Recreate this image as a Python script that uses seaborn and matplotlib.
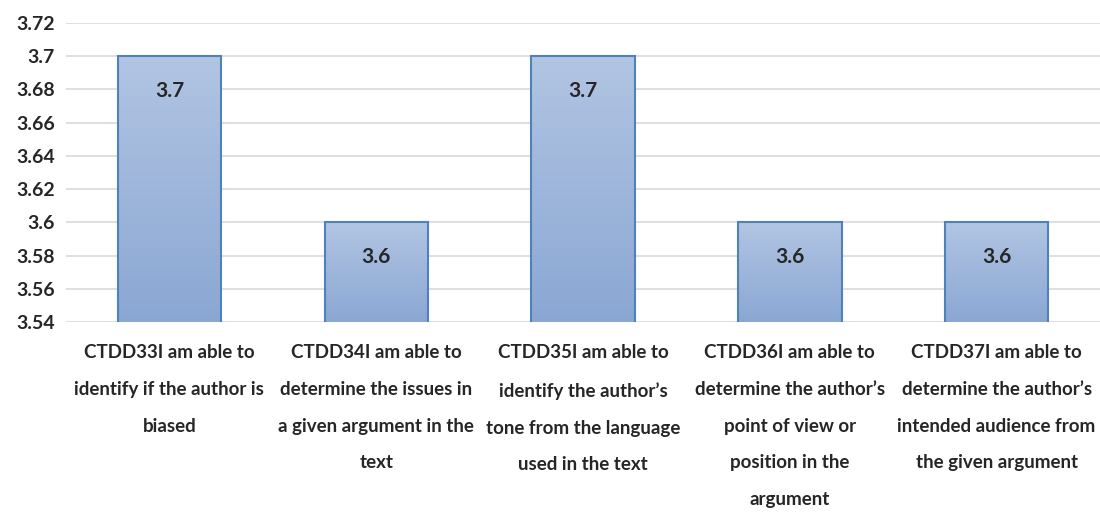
import numpy as np
import pandas as pd
import seaborn as sns
import matplotlib.pyplot as plt
from matplotlib.colors import LinearSegmentedColormap

sns.set_style('white')
plt.rcParams['font.family'] = ['Lato', 'DejaVu Sans']

# 数据
items = [
    "CTDD33I am able to\nidentify if the author is\nbiased",
    "CTDD34I am able to\ndetermine the issues in\na given argument in the\ntext",
    "CTDD35I am able to\nidentify the author\u2019s\ntone from the language\nused in the text",
    "CTDD36I am able to\ndetermine the author\u2019s\npoint of view or\nposition in the\nargument",
    "CTDD37I am able to\ndetermine the author\u2019s\nintended audience from\nthe given argument",
]
means = [3.7, 3.6, 3.7, 3.6, 3.6]
yticks = [3.54, 3.56, 3.58, 3.60, 3.62, 3.64, 3.66, 3.68, 3.70, 3.72]
ytick_labels = ["3.54", "3.56", "3.58", "3.6", "3.62", "3.64", "3.66", "3.68", "3.7", "3.72"]

df = pd.DataFrame({"item": items, "mean": means})

fig = plt.figure(figsize=(11, 5.18), dpi=100)
ax = fig.add_axes([0.06, 0.378, 0.94, 0.578])

sns.barplot(data=df, x="item", y="mean", ax=ax, width=0.5,
            color="#9DB3DA", edgecolor="#4F81BD", linewidth=1.5, zorder=2)
ymin, ymax = 3.54, 3.72

# 渐变填充
cmap = LinearSegmentedColormap.from_list("grad", ["#8AA7D3", "#B2C5E3"])
grad = np.linspace(0, 1, 256).reshape(-1, 1)
for p in ax.patches:
    x0, w = p.get_x(), p.get_width()
    top = p.get_y() + p.get_height()
    im = ax.imshow(grad, cmap=cmap, aspect="auto", origin="lower",
                   extent=[x0, x0 + w, ymin, top], zorder=2.5)
    p.set_facecolor("none")
    p.set_zorder(3)

ax.set_ylim(ymin, ymax)
ax.set_xlim(-0.5, 4.5)
ax.set_yticks(yticks)
ax.set_yticklabels(ytick_labels, fontsize=14, fontweight="bold")
ax.yaxis.grid(True, color="#D9D9D9", linewidth=1.2, zorder=0)
ax.set_axisbelow(True)
ax.tick_params(axis="y", length=0, pad=8)
ax.tick_params(axis="x", length=0, pad=16)
for lab in ax.get_xticklabels():
    lab.set_fontsize(13.5)
    lab.set_fontweight("bold")
    lab.set_linespacing(2.4)
for s in ax.spines.values():
    s.set_visible(False)
ax.set_xlabel("")
ax.set_ylabel("")

for i, v in enumerate(means):
    ax.text(i, v - 0.021, f"{v:g}", ha="center", va="center",
            fontsize=15, fontweight="bold", zorder=4)

plt.savefig("out.png", dpi=100)
plt.close()
